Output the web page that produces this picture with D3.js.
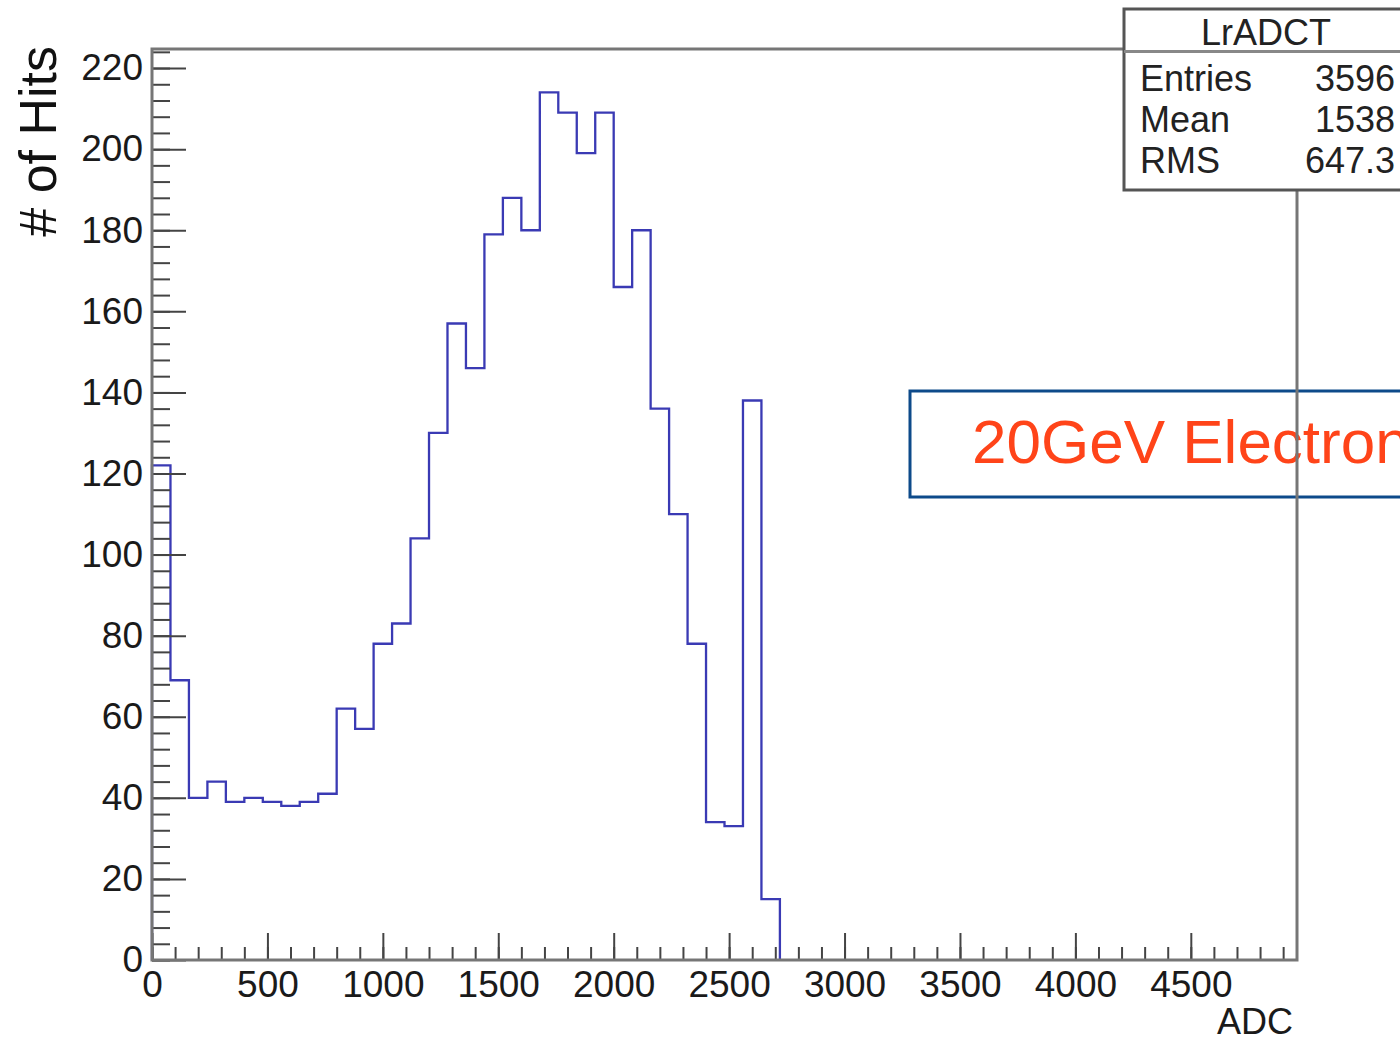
<!DOCTYPE html>
<html>
<head>
<meta charset="utf-8">
<script src="https://cdn.jsdelivr.net/npm/d3@7"></script>
<style>
  body { margin: 0; background: #fff; overflow: hidden; }
  text { font-family: "Liberation Sans", Arial, sans-serif; }
</style>
</head>
<body>
<div id="chart"></div>
<script>
// histogram LrADCT, bins of 80 ADC starting at 0
var binWidth = 80;
var counts = [122, 69, 40, 44, 39, 40, 39, 38, 39, 41, 62, 57, 78, 83, 104, 130, 157,
              146, 179, 188, 180, 214, 209, 199, 209, 166, 180, 136, 110, 78, 34, 33, 138, 15];
var xMajor = [0, 500, 1000, 1500, 2000, 2500, 3000, 3500, 4000, 4500];
var yMajor = [0, 20, 40, 60, 80, 100, 120, 140, 160, 180, 200, 220];
var statLabels = ["Entries", "Mean", "RMS"];
var statValues = ["3596", "1538", "647.3"];
var histName = "LrADCT";
var noteText = "20GeV Electron";

var width = 1400, height = 1043;
var margin = {top: 49, right: 103, bottom: 83, left: 152};
var xMax = 4960, yMax = 224.7;

var svg = d3.select("#chart").append("svg")
    .attr("width", width)
    .attr("height", height);

var x = d3.scaleLinear().domain([0, xMax]).range([margin.left, width - margin.right]);
var y = d3.scaleLinear().domain([0, yMax]).range([height - margin.bottom, margin.top]);

// text box from the slide (runs off the right edge like the original)
svg.append("rect")
    .attr("x", 910).attr("y", 391)
    .attr("width", 600).attr("height", 106)
    .attr("fill", "none")
    .attr("stroke", "#0d4a8a")
    .attr("stroke-width", 3);
svg.append("text")
    .attr("x", 972).attr("y", 463)
    .attr("font-size", 62)
    .attr("fill", "#ff4419")
    .text(noteText);

// histogram outline
var pts = [[0, 0]];
counts.forEach(function(c, i) { pts.push([i * binWidth, c]); });
pts.push([counts.length * binWidth, counts[counts.length - 1]]);
pts.push([counts.length * binWidth, 0]);

var line = d3.line()
    .x(function(d) { return x(d[0]); })
    .y(function(d) { return y(d[1]); })
    .curve(d3.curveStepAfter);

svg.append("path")
    .datum(pts)
    .attr("d", line)
    .attr("fill", "none")
    .attr("stroke", "#3a3ab4")
    .attr("stroke-width", 2.3);

// axes
var y0 = y(0), x0 = x(0);

var yMinorAxis = d3.axisLeft(y).tickValues(d3.range(0, 225, 4)).tickSize(-18).tickFormat("");
var yAxis = d3.axisLeft(y).tickValues(yMajor).tickSize(-34).tickPadding(9).tickFormat(d3.format("d"));
var xMinorAxis = d3.axisBottom(x).tickValues(d3.range(0, xMax, 100)).tickSize(-13).tickFormat("");
var xAxis = d3.axisBottom(x).tickValues(xMajor).tickSize(-27).tickPadding(11).tickFormat(d3.format("d"));

[yMinorAxis, yAxis].forEach(function(ax) {
    var g = svg.append("g")
        .attr("transform", "translate(" + x0 + ",0)")
        .call(ax)
        .attr("font-size", 37)
        .attr("font-family", "Liberation Sans, Arial, sans-serif");
    g.select(".domain").remove();
    g.selectAll("line").attr("stroke", "#444").attr("stroke-width", 2);
    g.selectAll("text").attr("fill", "#1a1a1a");
});
[xMinorAxis, xAxis].forEach(function(ax) {
    var g = svg.append("g")
        .attr("transform", "translate(0," + y0 + ")")
        .call(ax)
        .attr("font-size", 37)
        .attr("font-family", "Liberation Sans, Arial, sans-serif");
    g.select(".domain").remove();
    g.selectAll("line").attr("stroke", "#444").attr("stroke-width", 2);
    g.selectAll("text").attr("fill", "#1a1a1a");
});

// frame
svg.append("rect")
    .attr("x", x0).attr("y", y(yMax))
    .attr("width", x(xMax) - x0).attr("height", y0 - y(yMax))
    .attr("fill", "none")
    .attr("stroke", "#767676")
    .attr("stroke-width", 3);

// axis titles
svg.append("text")
    .attr("x", 1293).attr("y", 1034)
    .attr("text-anchor", "end")
    .attr("font-size", 36)
    .attr("fill", "#1a1a1a")
    .text("ADC");
svg.append("text")
    .attr("transform", "translate(56,46) rotate(-90)")
    .attr("text-anchor", "end")
    .attr("font-size", 52)
    .attr("fill", "#111")
    .text("# of Hits");

// stats box
var stats = svg.append("g");
stats.append("rect")
    .attr("x", 1124).attr("y", 9)
    .attr("width", 290).attr("height", 181)
    .attr("fill", "#fff")
    .attr("stroke", "#555")
    .attr("stroke-width", 3);
stats.append("line")
    .attr("x1", 1124).attr("x2", 1414)
    .attr("y1", 51.5).attr("y2", 51.5)
    .attr("stroke", "#888")
    .attr("stroke-width", 3);
stats.append("text")
    .attr("x", 1266).attr("y", 45)
    .attr("text-anchor", "middle")
    .attr("font-size", 36)
    .attr("fill", "#222")
    .text(histName);
statLabels.forEach(function(s, i) {
    stats.append("text")
        .attr("x", 1140).attr("y", 91 + i * 41)
        .attr("font-size", 36)
        .attr("fill", "#222")
        .text(s);
    stats.append("text")
        .attr("x", 1395).attr("y", 91 + i * 41)
        .attr("text-anchor", "end")
        .attr("font-size", 36)
        .attr("fill", "#222")
        .text(statValues[i]);
});
</script>
</body>
</html>
